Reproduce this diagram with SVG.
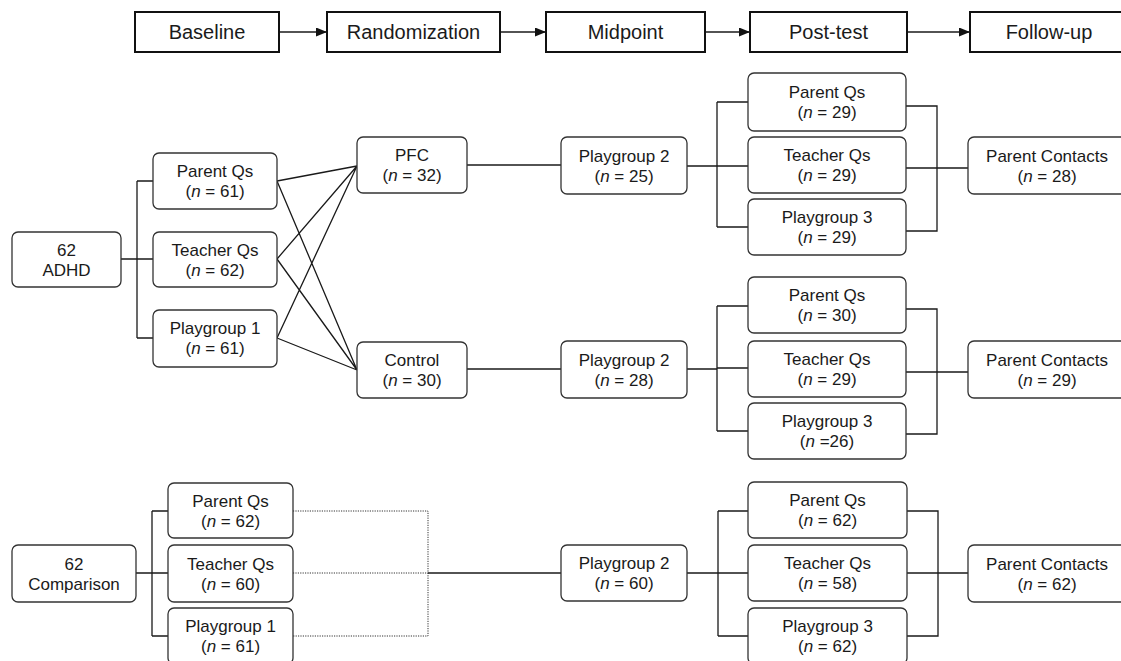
<svg xmlns="http://www.w3.org/2000/svg" width="1121" height="661" viewBox="0 0 1121 661">
<style>
  text { font-family: "Liberation Sans", Arial, Helvetica, sans-serif; fill: #1a1a1a; text-anchor: middle; }
  .hd rect { fill: #fff; stroke: #111; stroke-width: 2; }
  .hd text { font-size: 20px; }
  .nd rect { fill: #fff; stroke: #333; stroke-width: 1.3; }
  .nd text { font-size: 17px; }
  .it { font-style: italic; }
  .c path { fill: none; stroke: #1a1a1a; stroke-width: 1.3; }
  .c path.dot { stroke-width: 1; stroke-dasharray: 1.2 1.2; stroke: #333; }
  .c path.ar { stroke-width: 1.5; }
</style>
<defs>
  <marker id="arr" markerUnits="userSpaceOnUse" markerWidth="11" markerHeight="9" refX="11" refY="4.5" orient="auto">
    <path d="M0,0 L11,4.5 L0,9 z" fill="#111"/>
  </marker>
</defs>
<rect width="1121" height="661" fill="#fff"/>

<g id="connectors" class="c">
  <path class="ar" d="M279,32 H327" marker-end="url(#arr)"/>
  <path class="ar" d="M500,32 H546" marker-end="url(#arr)"/>
  <path class="ar" d="M705,32 H750" marker-end="url(#arr)"/>
  <path class="ar" d="M907,32 H970" marker-end="url(#arr)"/>

  <path d="M121,259 H137 M137,181 V338 M137,181 H153 M137,259 H153 M137,338 H153"/>
  <path d="M277,181 L357,166 M277,181 L357,370 M277,259 L357,166 M277,259 L357,370 M277,338 L357,166 M277,338 L357,370"/>
  <path d="M467,165 H561"/>
  <path d="M467,369 H561"/>

  <path d="M687,166 H717 M717,102 V227 M717,102 H748 M717,166 H748 M717,227 H748"/>
  <path d="M906,106 H937 V231 H906 M906,168 H968"/>

  <path d="M687,369 H717 M717,306 V431 M717,306 H748 M717,368 H748 M717,431 H748"/>
  <path d="M906,309 H937 V434 H906 M906,372 H968"/>

  <path d="M136,573 H152 M152,511 V636 M152,511 H168 M152,573 H168 M152,636 H168"/>
  <path class="dot" d="M293,511 H428 V636 H293 M293,573 H428"/>
  <path d="M428,573 H561"/>
  <path d="M687,573 H718 M718,511 V636 M718,511 H748 M718,573 H748 M718,636 H748"/>
  <path d="M907,511 H938 V636 H907 M907,573 H968"/>
</g>

<g id="h-baseline" class="hd"><rect x="135" y="12" width="144" height="40"/><text x="207" y="39">Baseline</text></g>
<g id="h-randomization" class="hd"><rect x="327" y="12" width="173" height="40"/><text x="413.5" y="39">Randomization</text></g>
<g id="h-midpoint" class="hd"><rect x="546" y="12" width="159" height="40"/><text x="625.5" y="39">Midpoint</text></g>
<g id="h-posttest" class="hd"><rect x="750" y="12" width="157" height="40"/><text x="828.5" y="39">Post-test</text></g>
<g id="h-followup" class="hd"><rect x="970" y="12" width="160" height="40"/><text x="1049" y="39">Follow-up</text></g>

<g id="adhd" class="nd"><rect x="12" y="232" width="109" height="55" rx="6"/><text x="66.5" y="255.5">62</text><text x="66.5" y="275.5">ADHD</text></g>
<g id="adhd-parent" class="nd"><rect x="153" y="153" width="124" height="56" rx="6"/><text x="215" y="177">Parent Qs</text><text x="215" y="197">(<tspan class="it">n</tspan> = 61)</text></g>
<g id="adhd-teacher" class="nd"><rect x="153" y="232" width="124" height="55" rx="6"/><text x="215" y="255.5">Teacher Qs</text><text x="215" y="275.5">(<tspan class="it">n</tspan> = 62)</text></g>
<g id="adhd-pg1" class="nd"><rect x="153" y="310" width="124" height="57" rx="6"/><text x="215" y="334">Playgroup 1</text><text x="215" y="354">(<tspan class="it">n</tspan> = 61)</text></g>

<g id="pfc" class="nd"><rect x="357" y="137" width="110" height="56" rx="6"/><text x="412" y="161">PFC</text><text x="412" y="181">(<tspan class="it">n</tspan> = 32)</text></g>
<g id="control" class="nd"><rect x="357" y="342" width="110" height="56" rx="6"/><text x="412" y="366">Control</text><text x="412" y="386">(<tspan class="it">n</tspan> = 30)</text></g>

<g id="pfc-pg2" class="nd"><rect x="561" y="137" width="126" height="57" rx="6"/><text x="624" y="161.5">Playgroup 2</text><text x="624" y="181.5">(<tspan class="it">n</tspan> = 25)</text></g>
<g id="pfc-parent" class="nd"><rect x="748" y="73" width="158" height="58" rx="6"/><text x="827" y="98">Parent Qs</text><text x="827" y="118">(<tspan class="it">n</tspan> = 29)</text></g>
<g id="pfc-teacher" class="nd"><rect x="748" y="137" width="158" height="56" rx="6"/><text x="827" y="161">Teacher Qs</text><text x="827" y="181">(<tspan class="it">n</tspan> = 29)</text></g>
<g id="pfc-pg3" class="nd"><rect x="748" y="199" width="158" height="56" rx="6"/><text x="827" y="223">Playgroup 3</text><text x="827" y="243">(<tspan class="it">n</tspan> = 29)</text></g>
<g id="pfc-contacts" class="nd"><rect x="968" y="137" width="165" height="57" rx="6"/><text x="1047" y="161.5">Parent Contacts</text><text x="1047" y="181.5">(<tspan class="it">n</tspan> = 28)</text></g>

<g id="ctl-pg2" class="nd"><rect x="561" y="341" width="126" height="57" rx="6"/><text x="624" y="365.5">Playgroup 2</text><text x="624" y="385.5">(<tspan class="it">n</tspan> = 28)</text></g>
<g id="ctl-parent" class="nd"><rect x="748" y="277" width="158" height="56" rx="6"/><text x="827" y="301">Parent Qs</text><text x="827" y="321">(<tspan class="it">n</tspan> = 30)</text></g>
<g id="ctl-teacher" class="nd"><rect x="748" y="341" width="158" height="56" rx="6"/><text x="827" y="365">Teacher Qs</text><text x="827" y="385">(<tspan class="it">n</tspan> = 29)</text></g>
<g id="ctl-pg3" class="nd"><rect x="748" y="403" width="158" height="56" rx="6"/><text x="827" y="427">Playgroup 3</text><text x="827" y="447">(<tspan class="it">n</tspan> =26)</text></g>
<g id="ctl-contacts" class="nd"><rect x="968" y="341" width="165" height="57" rx="6"/><text x="1047" y="365.5">Parent Contacts</text><text x="1047" y="385.5">(<tspan class="it">n</tspan> = 29)</text></g>

<g id="comparison" class="nd"><rect x="12" y="545" width="124" height="57" rx="6"/><text x="74" y="569.5">62</text><text x="74" y="589.5">Comparison</text></g>
<g id="cmp-parent" class="nd"><rect x="168" y="483" width="125" height="55" rx="6"/><text x="230.5" y="506.5">Parent Qs</text><text x="230.5" y="526.5">(<tspan class="it">n</tspan> = 62)</text></g>
<g id="cmp-teacher" class="nd"><rect x="168" y="545" width="125" height="57" rx="6"/><text x="230.5" y="569.5">Teacher Qs</text><text x="230.5" y="589.5">(<tspan class="it">n</tspan> = 60)</text></g>
<g id="cmp-pg1" class="nd"><rect x="168" y="608" width="125" height="56" rx="6"/><text x="230.5" y="632">Playgroup 1</text><text x="230.5" y="652">(<tspan class="it">n</tspan> = 61)</text></g>

<g id="cmp-pg2" class="nd"><rect x="561" y="545" width="126" height="56" rx="6"/><text x="624" y="569">Playgroup 2</text><text x="624" y="589">(<tspan class="it">n</tspan> = 60)</text></g>
<g id="cmp-parent2" class="nd"><rect x="748" y="482" width="159" height="56" rx="6"/><text x="827.5" y="506">Parent Qs</text><text x="827.5" y="526">(<tspan class="it">n</tspan> = 62)</text></g>
<g id="cmp-teacher2" class="nd"><rect x="748" y="545" width="159" height="56" rx="6"/><text x="827.5" y="569">Teacher Qs</text><text x="827.5" y="589">(<tspan class="it">n</tspan> = 58)</text></g>
<g id="cmp-pg3" class="nd"><rect x="748" y="608" width="159" height="56" rx="6"/><text x="827.5" y="632">Playgroup 3</text><text x="827.5" y="652">(<tspan class="it">n</tspan> = 62)</text></g>
<g id="cmp-contacts" class="nd"><rect x="968" y="545" width="165" height="57" rx="6"/><text x="1047" y="569.5">Parent Contacts</text><text x="1047" y="589.5">(<tspan class="it">n</tspan> = 62)</text></g>
</svg>
